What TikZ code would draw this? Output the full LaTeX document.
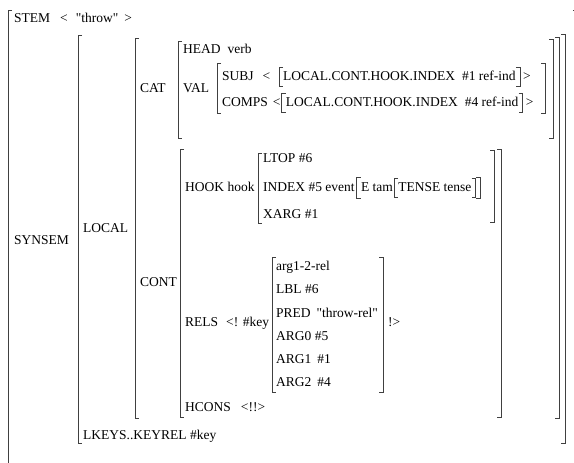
\documentclass[tikz,border=0pt]{standalone}
\usepackage{fontspec}
\setmainfont{Liberation Serif}[Ligatures=TeXOff]
\usetikzlibrary{fit,calc}
\newcommand\LBrk[3]{\draw[br] (#1+4,#2) -- (#1,#2) -- (#1,#3) -- (#1+4,#3);}
\newcommand\RBrk[3]{\draw[br] (#1-4,#2) -- (#1,#2) -- (#1,#3) -- (#1-4,#3);}
\newcommand\GBrk[1]{%
  \draw[br] ([xshift=4pt]#1.north west) -- (#1.north west) -- (#1.south west) -- ([xshift=4pt]#1.south west);
  \draw[br] ([xshift=-4pt]#1.north east) -- (#1.north east) -- (#1.south east) -- ([xshift=-4pt]#1.south east);}
\begin{document}
\begin{tikzpicture}[x=1pt,y=-1pt,
  br/.style={line width=0.6pt, draw=black!75},
  t/.style={anchor=base west, inner sep=0pt, font=\fontsize{13.5}{16}\selectfont},
  grp/.style={t, inner xsep=4pt, inner ysep=0pt, text height=13.5pt, text depth=5.5pt}]
\useasboundingbox (0,0) rectangle (574,463);
% texts
\node[t] (stem) at (14,22.5) {STEM\hspace{10pt}<\hspace{8pt}"throw"\hspace{6pt}>};
\node[t] (synsem) at (14,244.5) {SYNSEM};
\node[t] (local) at (83,232.5) {LOCAL};
\node[t] (lkeys) at (83,439.5) {LKEYS..KEYREL \#key};
\node[t] (cat) at (140,92.5) {CAT};
\node[t] (cont) at (140,286.5) {CONT};
\node[t] (head) at (183,53.5) {HEAD\hspace{7pt}verb};
\node[t] (val) at (183,92.5) {VAL};
\node[t] (subj) at (222,80.5) {SUBJ\hspace{9pt}<};
\node[grp] (subjv) at (279,80.5) {LOCAL.CONT.HOOK.INDEX\hspace{7pt}\#1 ref-ind};
\node[t] (subjc) at ([xshift=3pt]subjv.base east) {>};
\node[t] (comps) at (222,106.5) {COMPS\hspace{5pt}<};
\node[grp] (compsv) at ([xshift=1pt]comps.base east) {LOCAL.CONT.HOOK.INDEX\hspace{7pt}\#4 ref-ind};
\node[t] (compsc) at ([xshift=3pt]compsv.base east) {>};
\node[t] (hook) at (185,191.5) {HOOK hook};
\node[t] (ltop) at (263,162.5) {LTOP \#6};
\node[t] (index) at (263,191.5) {INDEX \#5 event};
\node[t] (xarg) at (263,218.5) {XARG \#1};
\node[t] (etam) at ([xshift=6pt]index.base east) {E tam};
\node[grp] (tense) at ([xshift=1pt]etam.base east) {TENSE tense};
\node[fit=(etam)(tense), inner xsep=4pt, inner ysep=0.5pt] (egrp) {};
\node[t] (rels) at (185,326.5) {RELS\hspace{8pt}<! \#key};
\node[t] (reltype) at (276,270.5) {arg1-2-rel};
\node[t] (lbl) at (276,293.5) {LBL \#6};
\node[t] (pred) at (276,317.5) {PRED\hspace{6pt}"throw-rel"};
\node[t] (arg0) at (276,340.5) {ARG0 \#5};
\node[t] (arg1) at (276,363.5) {ARG1\hspace{6pt}\#1};
\node[t] (arg2) at (276,386.5) {ARG2\hspace{6pt}\#4};
\node[t] (relsc) at (388,326.5) {!>};
\node[t] (hcons) at (185,411.5) {HCONS\hspace{10pt}<!!>};
% brackets
\LBrk{8}{10}{480} \RBrk{577}{10}{480}
\LBrk{78}{35}{443} \RBrk{565}{34}{443}
\LBrk{135}{38}{418} \RBrk{559}{37}{418}
\LBrk{178}{41}{138} \RBrk{553}{39}{138}
\LBrk{217}{63}{113} \RBrk{545}{63}{113}
\LBrk{180}{149}{417} \RBrk{501}{149}{417}
\LBrk{258}{153}{223} \RBrk{494}{150}{222}
\LBrk{272}{257}{392} \RBrk{383}{257}{392}
\GBrk{subjv} \GBrk{compsv} \GBrk{tense} \GBrk{egrp}
\end{tikzpicture}
\end{document}
